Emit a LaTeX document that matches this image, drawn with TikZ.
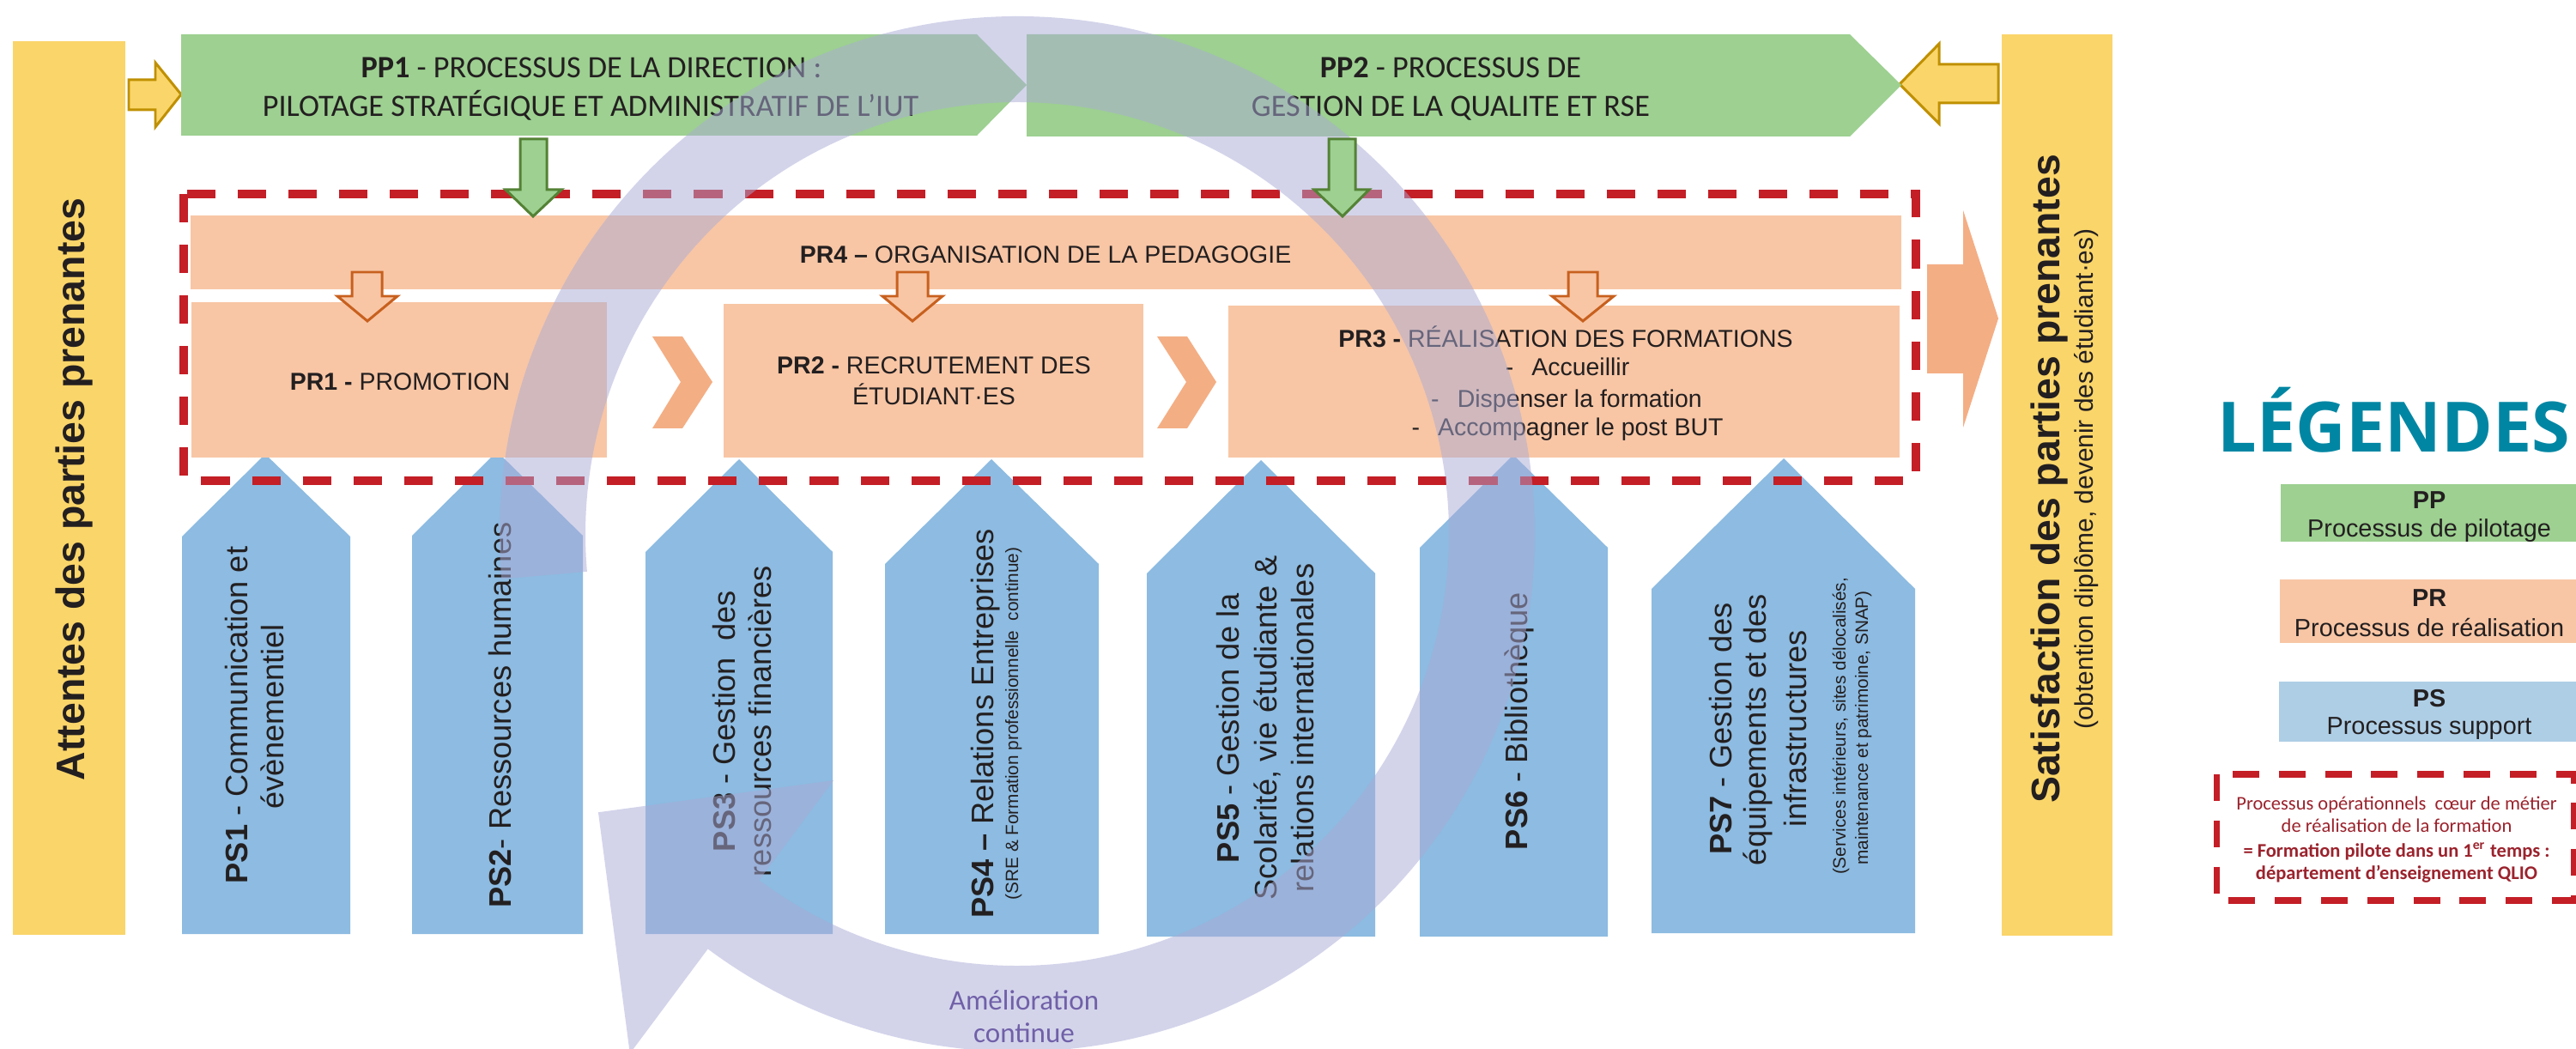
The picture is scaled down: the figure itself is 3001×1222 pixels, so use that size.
\documentclass[tikz,border=0pt]{standalone}
\usepackage{fontspec}
\setmainfont{Liberation Sans}
\newfontfamily\calfont{Carlito}
\newfontfamily\legfont{Open Sans}
\definecolor{yel}{RGB}{250,213,106}
\definecolor{yelS}{RGB}{191,144,0}
\definecolor{grn}{RGB}{157,208,145}
\definecolor{grnS}{RGB}{84,130,53}
\definecolor{sal}{RGB}{248,198,165}
\definecolor{salD}{RGB}{244,174,132}
\definecolor{oraS}{RGB}{200,96,30}
\definecolor{blu}{RGB}{141,187,225}
\definecolor{bluL}{RGB}{174,206,230}
\definecolor{redD}{RGB}{196,30,38}
\definecolor{legRed}{RGB}{155,35,45}
\definecolor{teal}{RGB}{0,134,163}
\definecolor{lav}{RGB}{169,171,214}
\definecolor{purp}{RGB}{112,96,168}
\definecolor{ink}{RGB}{35,31,32}
\newcommand\setsz[2]{\fontsize{#1}{#2}\selectfont}
\tikzset{
  txt/.style={anchor=base, inner sep=0pt, text=ink},
  pptext/.style={txt, font=\calfont\setsz{10.3}{12}},
  prtext/.style={txt, font=\setsz{8.1}{10}},
  pstext/.style={txt, rotate=90, font=\setsz{10.3}{12}},
  pssmall/.style={txt, rotate=90, font=\setsz{5.9}{7}},
  bartext/.style={txt, rotate=90, font=\bfseries\setsz{13.2}{15}},
  subtext/.style={txt, rotate=90, font=\setsz{8.5}{10}},
  legtext/.style={txt, font=\setsz{8.2}{10}},
  redtext/.style={anchor=base, inner sep=0pt, text=legRed, font=\calfont\setsz{6.4}{8}},
  yarrow/.style={fill=yel, draw=yelS, line width=0.85pt, line join=miter},
  garrow/.style={fill=grn, draw=grnS, line width=0.85pt, line join=miter},
  oarrow/.style={fill=sal, draw=oraS, line width=0.85pt, line join=miter},
  psarrow/.style={fill=blu},
  reddash/.style={draw=redD, line width=2.6pt, dash pattern=on 9.4pt off 7.4pt},
}
\begin{document}
\begin{tikzpicture}[x=0.01cm,y=-0.01cm]
\useasboundingbox (0,0) rectangle (3001,1222);
\fill[white] (0,0) rectangle (3001,1222);

% side bars
\fill[yel] (15,48) rectangle (146,1089);
\fill[yel] (2332,40) rectangle (2461,1090);
\node[bartext] (attentes) at (98,570) {Attentes des parties prenantes};
\node[bartext] (satisf) at (2399,558) {Satisfaction des parties prenantes};
\node[subtext] (obtention) at (2438,558) {(obtention diplôme, devenir des étudiant·es)};

% yellow arrows
\draw[yarrow] (150,93) -- (181,93) -- (181,73) -- (211,110) -- (181,148) -- (181,128) -- (150,128) -- cycle;
\draw[yarrow] (2328,75) -- (2259,75) -- (2259,51) -- (2213,98) -- (2259,144) -- (2259,120) -- (2328,120) -- cycle;

% PP shapes
\fill[grn] (211,40) -- (1138,40) -- (1196,99) -- (1138,158) -- (211,158) -- cycle;
\fill[grn] (1196,40) -- (2155,40) -- (2215,99) -- (2155,159) -- (1196,159) -- cycle;
\node[pptext] (pp1a) at (689,91) {\textbf{PP1} - PROCESSUS DE LA DIRECTION :};
\node[pptext] (pp1b) at (688,136) {PILOTAGE STRATÉGIQUE ET ADMINISTRATIF DE L’IUT};
\node[pptext] (pp2a) at (1690,91) {\textbf{PP2} - PROCESSUS DE};
\node[pptext] (pp2b) at (1690,136) {GESTION DE LA QUALITE ET RSE};

% PS arrows
\fill[psarrow] (212,1088) -- (212,625) -- (309,529) -- (408,625) -- (408,1088) -- cycle;
\fill[psarrow] (480,1088) -- (480,624) -- (579,526) -- (679,624) -- (679,1088) -- cycle;
\fill[psarrow] (752,1088) -- (752,643) -- (861,535) -- (970,643) -- (970,1088) -- cycle;
\fill[psarrow] (1031,1088) -- (1031,657) -- (1155,535) -- (1280,657) -- (1280,1088) -- cycle;
\fill[psarrow] (1336,1091) -- (1336,668) -- (1469,536) -- (1602,668) -- (1602,1091) -- cycle;
\fill[psarrow] (1654,1091) -- (1654,638) -- (1763,530) -- (1873,638) -- (1873,1091) -- cycle;
\fill[psarrow] (1924,1087) -- (1924,686) -- (2078,534) -- (2231,686) -- (2231,1087) -- cycle;

% PR shapes
\fill[sal] (222,251) rectangle (2215,337);
\fill[sal] (223,352) rectangle (707,533);
\fill[sal] (843,354) rectangle (1332,533);
\fill[sal] (1431,356) rectangle (2213,533);
\fill[salD] (760,392) -- (795,392) -- (830,445) -- (795,499) -- (760,499) -- (793,445) -- cycle;
\fill[salD] (1348,392) -- (1383,392) -- (1417,445) -- (1383,499) -- (1348,499) -- (1382,445) -- cycle;
\fill[salD] (2245,308) -- (2287,308) -- (2287,245) -- (2328,371) -- (2287,498) -- (2287,435) -- (2245,435) -- cycle;
\draw[oarrow] (410,317) -- (445,317) -- (445,345) -- (463,345) -- (428,374) -- (393,345) -- (410,345) -- cycle;
\draw[oarrow] (1045,317) -- (1081,317) -- (1081,345) -- (1098,345) -- (1063,374) -- (1028,345) -- (1045,345) -- cycle;
\draw[oarrow] (1827,317) -- (1861,317) -- (1861,345) -- (1880,345) -- (1844,374) -- (1808,345) -- (1827,345) -- cycle;

% red dashed frame
\draw[reddash] (214,226) rectangle (2232,560);

% PR texts
\node[prtext] (pr4) at (1218,307) {\textbf{PR4 –} ORGANISATION DE LA PEDAGOGIE};
\node[prtext] (pr1) at (466,455) {\textbf{PR1 -} PROMOTION};
\node[prtext] (pr2a) at (1088,436) {\textbf{PR2 -} RECRUTEMENT DES};
\node[prtext] (pr2b) at (1088,472) {ÉTUDIANT·ES};
\node[prtext] (pr3a) at (1824,405) {\textbf{PR3 -} RÉALISATION DES FORMATIONS};
\node[prtext] (pr3b) at (1826,438) {-\hspace{6pt}Accueillir};
\node[prtext] (pr3c) at (1825,475) {-\hspace{6pt}Dispenser la formation};
\node[prtext] (pr3d) at (1826,508) {-\hspace{6pt}Accompagner le post BUT};

% PS texts
\node[pstext] (ps1a) at (288,833) {\textbf{PS1} - Communication et};
\node[pstext] (ps1b) at (330,835) {évènementiel};
\node[pstext] (ps2) at (595,833) {\textbf{PS2}- Ressources humaines};
\node[pstext] (ps3a) at (856,840) {\textbf{PS3} - Gestion\ \ des};
\node[pstext] (ps3b) at (898,840) {ressources financières};
\node[pstext] (ps4a) at (1157,843) {\textbf{PS4 –} Relations Entreprises};
\node[pssmall] (ps4b) at (1186,843) {(SRE \& Formation professionnelle\ \ continue)};
\node[pstext] (ps5a) at (1443,848) {\textbf{PS5} - Gestion de la};
\node[pstext] (ps5b) at (1487,848) {Scolarité, vie étudiante \&};
\node[pstext] (ps5c) at (1530,848) {relations internationales};
\node[pstext] (ps6) at (1779,840) {\textbf{PS6} - Bibliothèque};
\node[pstext] (ps7a) at (2017,849) {\textbf{PS7} - Gestion des};
\node[pstext] (ps7b) at (2057,850) {équipements et des};
\node[pstext] (ps7c) at (2104,849) {infrastructures};
\node[pssmall] (ps7d) at (2150,846) {(Services intérieurs, sites délocalisés,};
\node[pssmall] (ps7e) at (2176,848) {maintenance et patrimoine, SNAP)};

% continuous improvement band
\begin{scope}[shift={(1185,622)}, y=0.01cm]
\fill[lav, opacity=0.5] (185:603) arc[start angle=185, end angle=-126.7, radius=603]
  -- (-126.7:755) -- (213.6:586) -- (-126.7:358) -- (-126.7:503)
  arc[start angle=-126.7, end angle=185, radius=503] -- cycle;
\end{scope}
\node[anchor=base, inner sep=0pt, text=purp, font=\calfont\setsz{9.4}{11}] (amel1) at (1193,1176) {Amélioration};
\node[anchor=base, inner sep=0pt, text=purp, font=\calfont\setsz{9.4}{11}] (amel2) at (1193,1214) {continue};

% green arrows (on top of frame and band)
\draw[garrow] (606,162) -- (637,162) -- (637,221) -- (654,221) -- (621,252) -- (589,221) -- (606,221) -- cycle;
\draw[garrow] (1548,162) -- (1579,162) -- (1579,221) -- (1595,221) -- (1564,252) -- (1531,221) -- (1548,221) -- cycle;

% legend
\node[anchor=base west, inner sep=0pt, text=teal, font=\legfont\bfseries\setsz{23}{26}] (legendes) at (2583,527) {LÉGENDES};
\fill[grn] (2657,564) rectangle (3003,631);
\fill[sal] (2656,675) rectangle (3003,749);
\fill[bluL] (2655,794) rectangle (3003,864);
\node[legtext, font=\bfseries\setsz{8.2}{10}] (lpp) at (2830,592) {PP};
\node[legtext] (lpp2) at (2830,626) {Processus de pilotage};
\node[legtext, font=\bfseries\setsz{8.2}{10}] (lpr) at (2830,706) {PR};
\node[legtext] (lpr2) at (2830,741) {Processus de réalisation};
\node[legtext, font=\bfseries\setsz{8.2}{10}] (lps) at (2830,823) {PS};
\node[legtext] (lps2) at (2830,855) {Processus support};
\draw[draw=redD, line width=2pt, dash pattern=on 8.8pt off 6.5pt] (2582,902) rectangle (2998,1049);
\node[redtext] (lr1) at (2792,943) {Processus opérationnels\ \ cœur de métier};
\node[redtext] (lr2) at (2792,969) {de réalisation de la formation};
\node[redtext, font=\calfont\bfseries\setsz{6.4}{8}] (lr3) at (2792,998) {= Formation pilote dans un 1\textsuperscript{er} temps :};
\node[redtext, font=\calfont\bfseries\setsz{6.4}{8}] (lr4) at (2792,1024) {département d’enseignement QLIO};
\end{tikzpicture}
\end{document}
